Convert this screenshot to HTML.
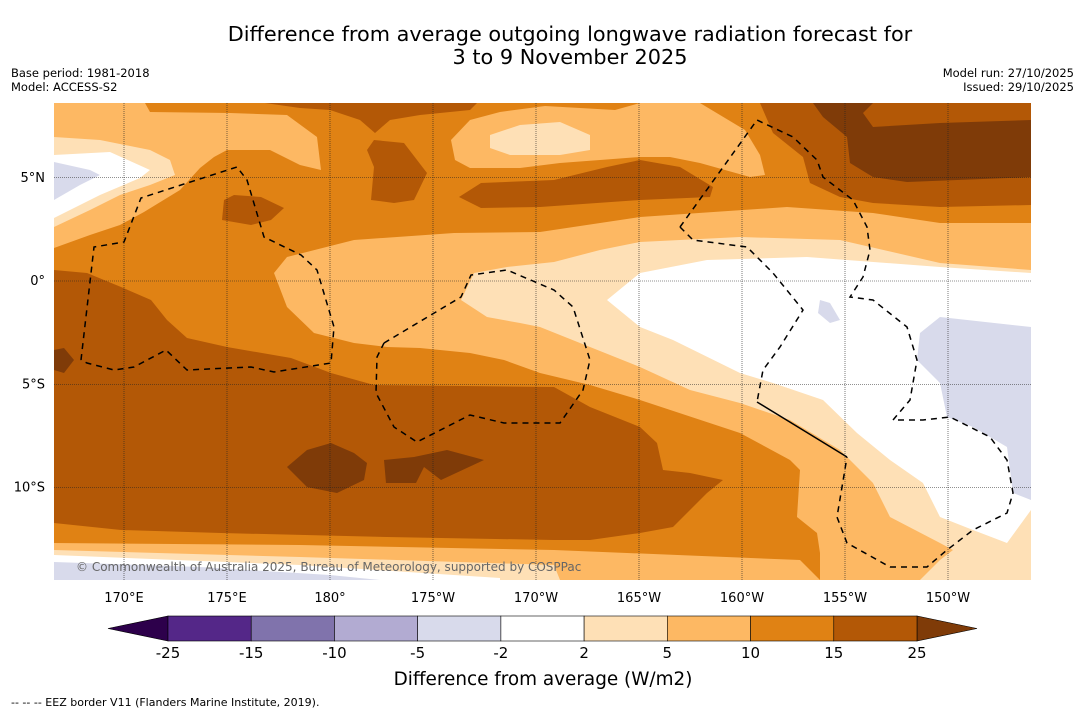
<!DOCTYPE html>
<html><head><meta charset="utf-8"><style>
body{margin:0;background:#fff;width:1085px;height:713px;overflow:hidden;font-family:"DejaVu Sans","Liberation Sans",sans-serif}
svg{display:block}
</style></head><body>
<svg width="1085" height="713" viewBox="0 0 1085 713">
<text x="570" y="41" text-anchor="middle" font-size="20.8">Difference from average outgoing longwave radiation forecast for</text>
<text x="570" y="64" text-anchor="middle" font-size="20.8">3 to 9 November 2025</text>
<text x="11" y="77" font-size="11.5">Base period: 1981-2018</text>
<text x="11" y="91" font-size="11.5">Model: ACCESS-S2</text>
<text x="1074" y="77" font-size="11.5" text-anchor="end">Model run: 27/10/2025</text>
<text x="1074" y="91" font-size="11.5" text-anchor="end">Issued: 29/10/2025</text>
<defs><clipPath id="mc"><rect x="54" y="103" width="977" height="477"/></clipPath></defs>
<g clip-path="url(#mc)" stroke-width="0.6">
<rect x="54" y="103" width="977" height="477" fill="#e08214"/>
<polygon fill="#fdb863" points="54,103 145,103 150,112 230,113 287,115 317,137 321,170 300,165 270,150 227,150 214,157 200,168 180,190 144,212 120,225 90,235 54,248"/>
<polygon fill="#fee0b6" points="54,137 100,140 150,150 170,160 175,175 150,185 120,195 90,210 54,227"/>
<polygon fill="#ffffff" points="54,155 110,152 150,170 140,178 100,195 54,218"/>
<polygon fill="#d8daeb" points="54,162 90,170 100,175 80,185 54,200"/>
<polygon fill="#fdb863" points="451,140 470,120 500,112 545,106 615,110 640,103 700,103 745,130 760,155 765,175 750,177 700,163 670,157 640,157 600,160 560,163 520,168 470,168 455,160"/>
<polygon fill="#fee0b6" points="490,135 520,125 560,122 590,135 590,150 560,155 510,155 490,148"/>
<polygon fill="#b35806" points="265,103 477,103 470,110 420,115 390,120 375,133 360,120 330,110 300,108"/>
<polygon fill="#b35806" points="367,150 374,140 404,143 427,173 414,200 394,203 371,200 374,167"/>
<polygon fill="#b35806" points="224,200 234,195 261,197 284,208 271,220 251,225 222,220"/>
<polygon fill="#b35806" points="459,197 481,183 554,180 607,167 640,160 680,167 713,187 710,197 640,200 540,207 481,208"/>
<polygon fill="#b35806" points="760,103 1031,103 1031,205 940,207 873,203 840,197 810,183 803,157 773,133"/>
<polygon fill="#7f3b08" points="813,103 873,103 863,113 873,127 940,123 1031,120 1031,177 907,182 873,177 850,163 847,137 823,117"/>
<polygon fill="#fdb863" points="274,273 287,257 354,240 454,233 540,232 640,217 787,207 873,213 940,223 1031,223 1031,580 820,580 820,553 817,533 797,517 800,470 790,460 740,433 640,400 590,385 540,373 504,360 470,353 420,348 387,347 354,343 314,333 287,307"/>
<polygon fill="#fee0b6" points="461,300 474,273 507,267 554,262 600,250 640,242 740,237 840,240 940,263 1031,270 1031,580 920,580 940,560 953,550 940,543 890,517 873,483 840,450 790,420 740,403 690,390 640,367 590,347 540,327 520,323 487,317"/>
<polygon fill="#ffffff" points="607,300 640,273 707,260 807,257 940,267 1031,273 1031,510 1007,543 973,530 940,517 923,483 890,460 857,433 823,400 773,383 740,373 673,340 640,327"/>
<polygon fill="#d8daeb" points="920,333 940,317 1031,327 1031,500 1013,493 1007,447 973,427 947,417 940,383 917,360"/>
<polygon fill="#d8daeb" points="820,300 830,303 840,320 830,323 818,313"/>
<polygon fill="#b35806" points="54,270 87,273 121,287 151,300 167,320 187,338 227,347 291,358 331,373 374,385 554,387 590,407 640,427 657,443 663,470 690,473 723,480 707,493 673,527 640,533 590,540 554,540 387,537 221,533 121,530 54,523"/>
<polygon fill="#7f3b08" points="287,467 307,450 331,443 354,453 367,463 364,480 337,493 307,487"/>
<polygon fill="#7f3b08" points="384,460 414,457 447,450 484,460 441,480 424,467 416,483 386,483"/>
<polygon fill="#7f3b08" points="54,350 64,348 74,360 64,373 54,370"/>
<polygon fill="#fdb863" points="54,543 300,545 554,550 800,560 820,580 54,580"/>
<polygon fill="#fee0b6" points="54,550 300,557 554,565 560,580 54,580"/>
<polygon fill="#ffffff" points="54,555 300,565 500,578 500,580 54,580"/>
<polygon fill="#d8daeb" points="54,562 200,567 330,575 380,580 54,580"/>
<g id="grid" stroke="#222" stroke-width="0.6" stroke-dasharray="1,1"></g>
<g fill="none" stroke="#000" stroke-width="1.5" stroke-dasharray="6,5">
<polyline points="81,360 94,247 124,242 141,198 181,185 237,167 247,180 264,237 301,255 317,270 334,327 331,363 274,372 251,367 187,370 166,350 134,367 114,370 87,363 81,360"/>
<polyline points="384,343 461,297 471,275 507,270 554,290 573,307 590,360 583,390 560,423 540,423 504,423 470,415 417,442 394,427 376,393 377,357 384,343"/>
<polyline points="680,227 757,120 793,137 817,160 823,177 853,200 867,227 870,250 863,277 850,297 873,300 907,327 917,360 910,400 893,420 923,420 950,417 990,437 1007,460 1013,493 1007,513 973,530 947,550 927,567 890,567 847,543 837,517 847,457"/>
<polyline points="680,227 693,240 747,247 773,273 803,310 780,347 763,370 757,402"/>
<polyline stroke-dasharray="none" points="757,402 847,457"/>
</g>
<text x="76" y="571" font-size="12" fill="#666">© Commonwealth of Australia 2025, Bureau of Meteorology, supported by COSPPac</text>
</g>
<g id="axlabels" font-size="13"></g>
<g id="cbar"></g>
<text x="543" y="685" text-anchor="middle" font-size="18.4">Difference from average (W/m2)</text>
<text x="11" y="706" font-size="11">-- -- -- EEZ border V11 (Flanders Marine Institute, 2019).</text>
</svg>
<script>
const lonTicks=["170°E","175°E","180°","175°W","170°W","165°W","160°W","155°W","150°W"];
const lonVals=[170,175,180,185,190,195,200,205,210];
const latTicks=["5°N","0°","5°S","10°S"];
const latVals=[5,0,-5,-10];
const levels=["-25","-15","-10","-5","-2","2","5","10","15","25"];
const colors=["#542788","#8073ac","#b2abd2","#d8daeb","#ffffff","#fee0b6","#fdb863","#e08214","#b35806"];
const NS="http://www.w3.org/2000/svg";
const xOf=l=>124+(l-170)*20.6;
const yOf=la=>281-la*20.65;
function mk(t,a,p){const e=document.createElementNS(NS,t);for(const k in a)e.setAttribute(k,a[k]);p.appendChild(e);return e;}
const grid=document.getElementById('grid'),ax=document.getElementById('axlabels');
lonVals.forEach((v,i)=>{
 const l=mk('line',{x1:xOf(v),x2:xOf(v),y1:103,y2:580},grid);
 
 
 const t=mk('text',{x:xOf(v),y:602,'text-anchor':'middle'},ax);t.textContent=lonTicks[i];
 
 
});
latVals.forEach((v,i)=>{
 const l=mk('line',{x1:54,x2:1031,y1:yOf(v),y2:yOf(v)},grid);
 
 
 const t=mk('text',{x:45,y:yOf(v)+4,'text-anchor':'end'},ax);t.textContent=latTicks[i];
 
 
});
const cb=document.getElementById('cbar');
const x0=168,x1=917,y0=616,h=25,w=(x1-x0)/colors.length;
const lt=mk('polygon',{points:`${x0},${y0} ${x0},${y0+h} 108,${y0+h/2}`,fill:'#2d004b',stroke:'#000','stroke-width':0.6},cb);


const rt=mk('polygon',{points:`${x1},${y0} ${x1},${y0+h} 977,${y0+h/2}`,fill:'#7f3b08',stroke:'#000','stroke-width':0.6},cb);


colors.forEach((c,i)=>{
 const r=mk('rect',{x:x0+i*w,y:y0,width:w,height:h,fill:c,stroke:'#000','stroke-width':0.6},cb);
 
 
});
levels.forEach((s,i)=>{
 const t=mk('text',{x:x0+i*w,y:658,'text-anchor':'middle','font-size':15},cb);t.textContent=s;
 
 
});
</script>
</body></html>
